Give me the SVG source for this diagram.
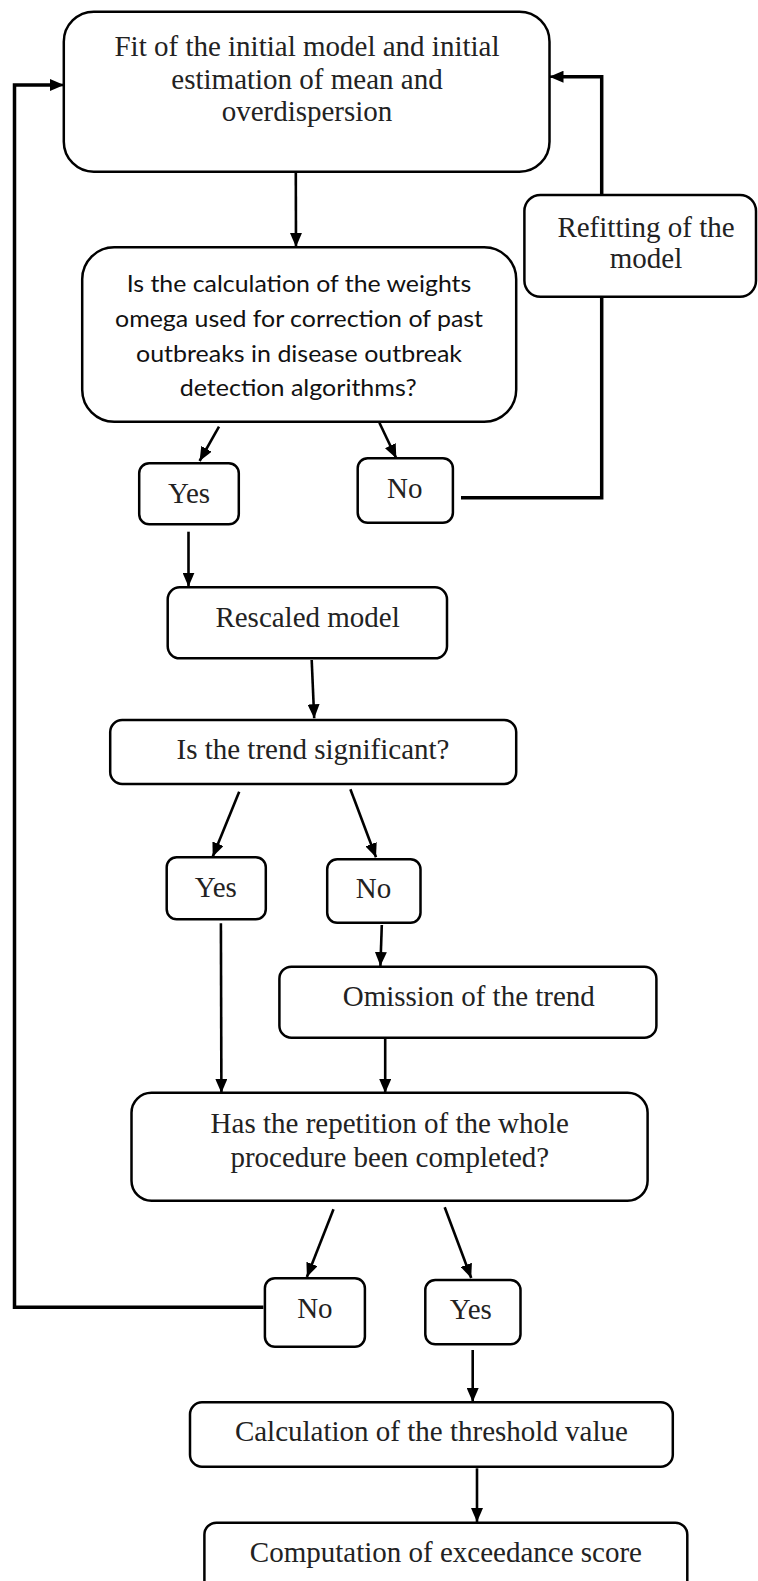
<svg xmlns="http://www.w3.org/2000/svg" width="758" height="1581" viewBox="0 0 758 1581">
<defs>
<marker id="ah" markerWidth="14" markerHeight="12" refX="14" refY="6" orient="auto" markerUnits="userSpaceOnUse" viewBox="0 0 14 12">
<path d="M0,0 L14,6 L0,12 z" fill="#000"/>
</marker>
<style>
.box{fill:#fff;stroke:#000;stroke-width:2.5}
.ser{font-family:"Liberation Serif","Times New Roman",serif;font-size:29px;fill:#222;text-anchor:middle}
.san{font-family:Lato,"Open Sans",sans-serif;font-size:24px;fill:#111;text-anchor:middle}
.arr{fill:none;stroke:#000;stroke-width:2.6;marker-end:url(#ah)}
.fb{fill:none;stroke:#000;stroke-width:3.5}
</style>
</defs>
<rect width="758" height="1581" fill="#fff"/>

<g id="connectors">
<path class="arr" d="M295.8,173 L296,247"/>
<path class="arr" d="M219,426.7 L199.6,461"/>
<path class="arr" d="M379.4,422.7 L396.3,458.3"/>
<path class="fb" d="M461,497.7 L601.7,497.7 L601.7,296.7"/>
<path class="fb" d="M601.7,195 L601.7,76.7 L560,76.7"/>
<path class="arr" d="M562,76.7 L549.5,76.7"/>
<path class="arr" d="M188.5,531.7 L188.5,586.7"/>
<path class="arr" d="M311.7,660 L314.2,718.3"/>
<path class="arr" d="M239.2,791.7 L212.7,856.7"/>
<path class="arr" d="M350.4,789.3 L376,857.3"/>
<path class="arr" d="M220.9,923.3 L221.4,1093"/>
<path class="arr" d="M381.8,925 L380.4,966"/>
<path class="arr" d="M385.2,1038.3 L385.2,1093"/>
<path class="arr" d="M333.5,1209.3 L306.9,1277"/>
<path class="arr" d="M444.7,1207.3 L471.2,1278"/>
<path class="fb" d="M263.4,1307.3 L14.5,1307.3 L14.5,85 L52,85"/>
<path class="arr" d="M50,85 L64,85"/>
<path class="arr" d="M472.7,1350 L472.7,1402"/>
<path class="arr" d="M477,1468.3 L477,1522"/>
</g>

<g id="n-fit">
<rect class="box" x="63.8" y="11.7" width="485.7" height="160" rx="30"/>
<text class="ser" x="307" y="55.5">Fit of the initial model and initial</text>
<text class="ser" x="307" y="88.5">estimation of mean and</text>
<text class="ser" x="307" y="121">overdispersion</text>
</g>

<g id="n-refit">
<rect class="box" x="524.4" y="195" width="231.6" height="101.7" rx="16"/>
<text class="ser" x="646" y="236.7">Refitting of the</text>
<text class="ser" x="646" y="268">model</text>
</g>

<g id="n-weights">
<rect class="box" x="82.2" y="247.3" width="434" height="174.4" rx="32"/>
<text class="san" x="299" y="291.7" textLength="344.6" lengthAdjust="spacingAndGlyphs">Is the calculation of the weights</text>
<text class="san" x="299" y="326.7" textLength="368" lengthAdjust="spacingAndGlyphs">omega used for correction of past</text>
<text class="san" x="299" y="361.7" textLength="326" lengthAdjust="spacingAndGlyphs">outbreaks in disease outbreak</text>
<text class="san" x="298.2" y="396" textLength="237" lengthAdjust="spacingAndGlyphs">detection algorithms?</text>
</g>

<g id="n-yes1">
<rect class="box" x="139.2" y="463.3" width="99.6" height="61" rx="10"/>
<text class="ser" x="189" y="503.3">Yes</text>
</g>

<g id="n-no1">
<rect class="box" x="357.7" y="458.3" width="95.2" height="64.4" rx="10"/>
<text class="ser" x="404.8" y="498.3">No</text>
</g>

<g id="n-rescaled">
<rect class="box" x="167.7" y="587.3" width="279.3" height="71" rx="12"/>
<text class="ser" x="307.6" y="627.3">Rescaled model</text>
</g>

<g id="n-trend">
<rect class="box" x="110.2" y="720" width="406" height="64" rx="12"/>
<text class="ser" x="313" y="759.3">Is the trend significant?</text>
</g>

<g id="n-yes2">
<rect class="box" x="166.7" y="857.3" width="99.1" height="62" rx="10"/>
<text class="ser" x="215.8" y="896.7">Yes</text>
</g>

<g id="n-no2">
<rect class="box" x="327.2" y="859.3" width="93.3" height="63.4" rx="10"/>
<text class="ser" x="373.6" y="898.3">No</text>
</g>

<g id="n-omission">
<rect class="box" x="279.4" y="966.7" width="377" height="71" rx="12"/>
<text class="ser" x="468.8" y="1006">Omission of the trend</text>
</g>

<g id="n-repetition">
<rect class="box" x="131.5" y="1092.7" width="516.1" height="108" rx="20"/>
<text class="ser" x="389.8" y="1133.3">Has the repetition of the whole</text>
<text class="ser" x="389.8" y="1166.7">procedure been completed?</text>
</g>

<g id="n-no3">
<rect class="box" x="264.9" y="1278.3" width="100" height="68.4" rx="10"/>
<text class="ser" x="314.9" y="1318.3">No</text>
</g>

<g id="n-yes3">
<rect class="box" x="425.3" y="1280" width="95.2" height="64.3" rx="10"/>
<text class="ser" x="470.8" y="1319.3">Yes</text>
</g>

<g id="n-threshold">
<rect class="box" x="190" y="1402.3" width="482.8" height="64.4" rx="12"/>
<text class="ser" x="431.4" y="1440.7">Calculation of the threshold value</text>
</g>

<g id="n-exceedance">
<rect class="box" x="204.4" y="1522.7" width="482.9" height="80" rx="12"/>
<text class="ser" x="445.9" y="1561.7">Computation of exceedance score</text>
</g>
</svg>
